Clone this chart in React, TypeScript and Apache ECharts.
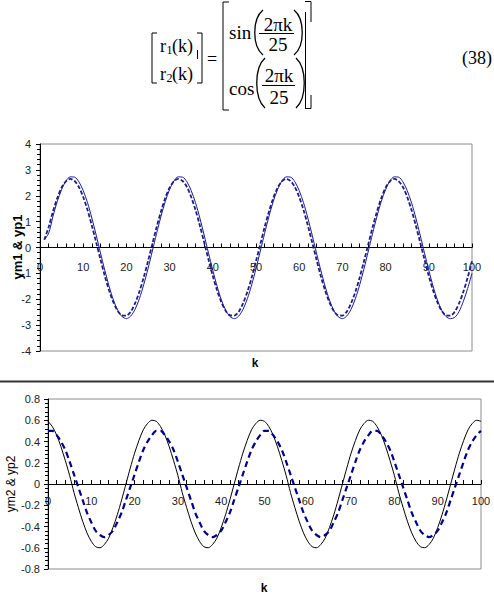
import React, { useEffect, useRef } from "react";
import * as echarts from "echarts";

// ---------- data ----------
const TOP_K_START = 1; // first sample of the upper plot is k = 1
const BOTTOM_K_START = 0; // first sample of the lower plot is k = 0

const ym1 = [
  0.30, 0.55, 1.20, 1.78, 2.24, 2.57, 2.73, 2.72, 2.54, 2.20, 1.73, 1.14, 0.48, -0.21, -0.88, -1.50, -2.03, -2.43, -2.67, -2.75, -2.65, -2.39, -1.98, -1.44, -0.82,
  -0.14, 0.55, 1.20, 1.78, 2.24, 2.57, 2.73, 2.72, 2.54, 2.20, 1.73, 1.14, 0.48, -0.21, -0.88, -1.50, -2.03, -2.43, -2.67, -2.75, -2.65, -2.39, -1.98, -1.44, -0.82,
  -0.14, 0.55, 1.20, 1.78, 2.24, 2.57, 2.73, 2.72, 2.54, 2.20, 1.73, 1.14, 0.48, -0.21, -0.88, -1.50, -2.03, -2.43, -2.67, -2.75, -2.65, -2.39, -1.98, -1.44, -0.82,
  -0.14, 0.55, 1.20, 1.78, 2.24, 2.57, 2.73, 2.72, 2.54, 2.20, 1.73, 1.14, 0.48, -0.21, -0.88, -1.50, -2.03, -2.43, -2.67, -2.75, -2.70, -2.48, -2.08, -1.58, -1.00,
];

const yp1 = [
  0.30, 0.79, 1.39, 1.91, 2.31, 2.56, 2.65, 2.57, 2.34, 1.95, 1.45, 0.85, 0.20, -0.46, -1.10, -1.66, -2.12, -2.45, -2.62, -2.63, -2.48, -2.16, -1.71, -1.16, -0.53,
  0.13, 0.79, 1.39, 1.91, 2.31, 2.56, 2.65, 2.57, 2.34, 1.95, 1.45, 0.85, 0.20, -0.46, -1.10, -1.66, -2.12, -2.45, -2.62, -2.63, -2.48, -2.16, -1.71, -1.16, -0.53,
  0.13, 0.79, 1.39, 1.91, 2.31, 2.56, 2.65, 2.57, 2.34, 1.95, 1.45, 0.85, 0.20, -0.46, -1.10, -1.66, -2.12, -2.45, -2.62, -2.63, -2.48, -2.16, -1.71, -1.16, -0.53,
  0.13, 0.79, 1.39, 1.91, 2.31, 2.56, 2.65, 2.57, 2.34, 1.95, 1.45, 0.85, 0.20, -0.46, -1.10, -1.66, -2.12, -2.45, -2.62, -2.63, -2.48, -2.16, -1.71, -1.16, -0.53,
];

const ym2 = [
  0.59, 0.54, 0.46, 0.35, 0.22, 0.08, -0.08, -0.22, -0.35, -0.46, -0.54, -0.59, -0.60, -0.57, -0.51, -0.41, -0.29, -0.15, 0.00, 0.15, 0.29, 0.41, 0.51, 0.57, 0.60,
  0.59, 0.54, 0.46, 0.35, 0.22, 0.08, -0.08, -0.22, -0.35, -0.46, -0.54, -0.59, -0.60, -0.57, -0.51, -0.41, -0.29, -0.15, 0.00, 0.15, 0.29, 0.41, 0.51, 0.57, 0.60,
  0.59, 0.54, 0.46, 0.35, 0.22, 0.08, -0.08, -0.22, -0.35, -0.46, -0.54, -0.59, -0.60, -0.57, -0.51, -0.41, -0.29, -0.15, 0.00, 0.15, 0.29, 0.41, 0.51, 0.57, 0.60,
  0.59, 0.54, 0.46, 0.35, 0.22, 0.08, -0.08, -0.22, -0.35, -0.46, -0.54, -0.59, -0.60, -0.57, -0.51, -0.41, -0.29, -0.15, 0.00, 0.15, 0.29, 0.41, 0.51, 0.57, 0.60,
  0.59,
];

const yp2 = [
  0.50, 0.50, 0.46, 0.40, 0.32, 0.21, 0.09, -0.03, -0.15, -0.27, -0.36, -0.44, -0.48, -0.50, -0.48, -0.44, -0.36, -0.27, -0.15, -0.03, 0.09, 0.21, 0.32, 0.40, 0.46,
  0.50, 0.50, 0.46, 0.40, 0.32, 0.21, 0.09, -0.03, -0.15, -0.27, -0.36, -0.44, -0.48, -0.50, -0.48, -0.44, -0.36, -0.27, -0.15, -0.03, 0.09, 0.21, 0.32, 0.40, 0.46,
  0.50, 0.50, 0.46, 0.40, 0.32, 0.21, 0.09, -0.03, -0.15, -0.27, -0.36, -0.44, -0.48, -0.50, -0.48, -0.44, -0.36, -0.27, -0.15, -0.03, 0.09, 0.21, 0.32, 0.40, 0.46,
  0.50, 0.50, 0.46, 0.40, 0.32, 0.21, 0.09, -0.03, -0.15, -0.27, -0.36, -0.44, -0.48, -0.50, -0.48, -0.44, -0.36, -0.27, -0.15, -0.03, 0.09, 0.21, 0.32, 0.40, 0.46,
  0.50,
];

const xRange = [0, 100];
const xStep = 10;
const yRangeTop = [-4, 4];
const yStepTop = 1;
const yRangeBottom = [-0.8, 0.8];
const yStepBottom = 0.2;

const titleTop = "ym1 & yp1";
const titleBottom = "ym2 & yp2";
const xTitle = "k";

// ---------- layout & styles ----------
const SANS = "'Liberation Sans', Arial, sans-serif";
const SERIF = "'Liberation Serif', 'Times New Roman', serif";
const NAVY = "#1c1c8c";

const TOP_GRID = { left: 40, top: 144, width: 432, height: 207 };
const BOTTOM_GRID = { left: 48, top: 399, width: 433, height: 170 };

const pairs = (vals: number[], start: number) => vals.map((v, i) => [start + i, v]);

// x axis is moved up to y = 0 (middle of the symmetric range) with a negative offset
function xAxisCfg(gridIndex: number, labelMargin: number, offset: number) {
  return {
    type: "value",
    gridIndex,
    position: "bottom",
    offset,
    min: xRange[0],
    max: xRange[1],
    interval: xStep,
    axisLine: { show: true, onZero: false, lineStyle: { color: "#000", width: 1 } },
    axisTick: { show: true, inside: true, length: 4, lineStyle: { color: "#000" } },
    minorTick: { show: true, splitNumber: 5, length: 4, lineStyle: { color: "#000" } },
    axisLabel: { margin: labelMargin, fontSize: 11, color: "#222", fontFamily: SANS },
    splitLine: { show: false },
    minorSplitLine: { show: false },
  };
}

function yAxisCfg(gridIndex: number, range: number[], step: number, labelMargin: number) {
  return {
    type: "value",
    gridIndex,
    min: range[0],
    max: range[1],
    interval: step,
    axisLine: { show: true, onZero: false, lineStyle: { color: "#000", width: 1 } },
    axisTick: { show: true, length: 4, lineStyle: { color: "#000" } },
    minorTick: { show: true, splitNumber: 5, length: 3, lineStyle: { color: "#000" } },
    axisLabel: { margin: labelMargin, fontSize: 11, color: "#222", fontFamily: SANS },
    splitLine: { show: false },
    minorSplitLine: { show: false },
  };
}

const txt = (text: string, x: number, y: number, size: number, extra: any = {}, font = SERIF, rotation = 0) => ({
  type: "text",
  x,
  y,
  rotation,
  silent: true,
  style: {
    text,
    fontSize: size,
    fontFamily: font,
    fill: "#000",
    align: "left",
    verticalAlign: "middle",
    ...extra,
  },
});

const ln = (x1: number, y1: number, x2: number, y2: number, w = 1, color = "#000") => ({
  type: "line",
  silent: true,
  shape: { x1, y1, x2, y2 },
  style: { stroke: color, lineWidth: w },
});

const pl = (points: number[][], w = 1) => ({
  type: "polyline",
  silent: true,
  shape: { points },
  style: { stroke: "#000", lineWidth: w, fill: "none" },
});

const paren = (x: number, y1: number, y2: number, dir: number) => ({
  type: "bezierCurve",
  silent: true,
  shape: {
    x1: x,
    y1,
    x2: x,
    y2,
    cpx1: x + dir * 11,
    cpy1: y1 + (y2 - y1) * 0.2,
    cpx2: x + dir * 11,
    cpy2: y1 + (y2 - y1) * 0.8,
  },
  style: { stroke: "#000", lineWidth: 1.3, fill: "none" },
});

const equation = [
  // left vector
  pl([[157, 33], [152, 33], [152, 83], [157, 83]]),
  pl([[197, 33], [202, 33], [202, 83], [197, 83]]),
  ln(197.5, 50, 197.5, 59),
  txt("r", 160, 46, 18),
  txt("1", 166.5, 50, 12),
  txt("(k)", 172, 46, 18),
  txt("r", 160, 74, 18),
  txt("2", 166.5, 78, 12),
  txt("(k)", 172, 74, 18),
  txt("=", 207, 59, 18),
  // right vector
  pl([[229, 2], [223, 2], [223, 110], [229, 110]]),
  pl([[305, 1.5], [311, 1.5], [311, 22]]),
  ln(305.5, 12, 305.5, 108),
  pl([[305, 108.5], [311, 108.5], [311, 95]]),
  txt("sin", 229, 32, 19),
  paren(263, 10, 55, -1),
  paren(294, 10, 55, 1),
  txt("2\u03c0k", 278, 24, 19, { align: "center" }),
  ln(259, 33.5, 294, 33.5),
  txt("25", 278, 44, 19, { align: "center" }),
  txt("cos", 229, 88, 19),
  paren(265, 58, 108, -1),
  paren(296, 58, 108, 1),
  txt("2\u03c0k", 279, 75, 19, { align: "center" }),
  ln(262, 85.5, 295, 85.5),
  txt("25", 279, 97, 19, { align: "center" }),
  txt("(38)", 462, 58, 18),
];

const chartTexts = [
  txt(titleTop, 17, 247, 13, { align: "center", fontWeight: "bold" }, SANS, Math.PI / 2),
  txt(xTitle, 255, 363, 12, { align: "center", fontWeight: "bold" }, SANS),
  txt(titleBottom, 11, 484, 12, { align: "center" }, SANS, Math.PI / 2),
  txt(xTitle, 264, 588, 12, { align: "center", fontWeight: "bold" }, SANS),
  ln(0, 381.5, 494, 381.5, 2, "#333"),
];

export default function App() {
  const ref = useRef<HTMLDivElement>(null);
  useEffect(() => {
    const chart = echarts.init(ref.current!, null, { renderer: "svg" });
    chart.setOption({
      animation: false,
      backgroundColor: "#fff",
      grid: [
        { ...TOP_GRID, show: true, borderColor: "#8c8c8c", borderWidth: 1, backgroundColor: "transparent", containLabel: false },
        { ...BOTTOM_GRID, show: true, borderColor: "#8c8c8c", borderWidth: 1, backgroundColor: "transparent", containLabel: false },
      ],
      xAxis: [
        xAxisCfg(0, 14, -TOP_GRID.height / 2),
        xAxisCfg(1, 11, -BOTTOM_GRID.height / 2),
      ],
      yAxis: [yAxisCfg(0, yRangeTop, yStepTop, 9), yAxisCfg(1, yRangeBottom, yStepBottom, 8)],
      series: [
        {
          type: "line",
          xAxisIndex: 0,
          yAxisIndex: 0,
          data: pairs(ym1, TOP_K_START),
          showSymbol: false,
          smooth: 0.3,
          lineStyle: { color: NAVY, width: 1 },
        },
        {
          type: "line",
          xAxisIndex: 0,
          yAxisIndex: 0,
          data: pairs(yp1, TOP_K_START),
          showSymbol: false,
          smooth: 0.3,
          lineStyle: { color: NAVY, width: 1.8, type: [4, 2] },
        },
        {
          type: "line",
          xAxisIndex: 1,
          yAxisIndex: 1,
          data: pairs(ym2, BOTTOM_K_START),
          showSymbol: false,
          smooth: 0.3,
          lineStyle: { color: "#000", width: 1 },
        },
        {
          type: "line",
          xAxisIndex: 1,
          yAxisIndex: 1,
          data: pairs(yp2, BOTTOM_K_START),
          showSymbol: false,
          smooth: 0.3,
          lineStyle: { color: "#00008b", width: 2.2, type: [6, 4] },
        },
      ],
      graphic: { elements: [...equation, ...chartTexts] },
    });
    return () => chart.dispose();
  }, []);
  return (
    <div
      ref={ref}
      style={{ position: "fixed", left: 0, top: 0, width: 494, height: 603, background: "#fff" }}
    />
  );
}
